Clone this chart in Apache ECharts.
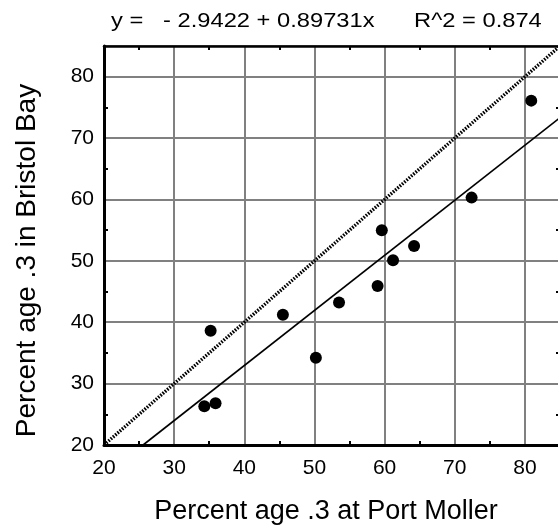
<!DOCTYPE html>
<html>
<head>
<meta charset="utf-8">
<script src="https://cdn.jsdelivr.net/npm/echarts@6/dist/echarts.min.js"></script>
<style>
html,body{margin:0;padding:0;background:#fff;}
#chart{width:558px;height:525px;}
</style>
</head>
<body>
<div id="chart"></div>
<script>
const portMoller = [34.3, 35.9, 35.2, 45.5, 50.2, 53.5, 59.0, 59.6, 61.2, 64.2, 72.4, 80.9];
const bristolBay = [26.3, 26.8, 38.6, 41.2, 34.2, 43.2, 45.9, 55.0, 50.1, 52.4, 60.3, 76.1];
const tickLabels = [20, 30, 40, 50, 60, 70, 80];
const minorTicks = [25, 35, 45, 55, 65, 75];
const axisRange = [20, 85];
const fitIntercept = -2.9422;
const fitSlope = 0.89731;
const rSquared = 0.874;
const xName = 'Percent age .3 at Port Moller';
const yName = 'Percent age .3 in Bristol Bay';

const points = portMoller.map((x, i) => [x, bristolBay[i]]);
const fitStartX = (axisRange[0] - fitIntercept) / fitSlope;
const fitLine = [[fitStartX, axisRange[0]], [axisRange[1], fitIntercept + fitSlope * axisRange[1]]];
const oneToOne = [[axisRange[0], axisRange[0]], [axisRange[1], axisRange[1]]];
const titleText = 'y =   - ' + Math.abs(fitIntercept) + ' + ' + fitSlope + 'x      R^2 = ' + rSquared;

const FONT = "'Liberation Sans', Arial, Helvetica, sans-serif";

function baseAxis(position) {
  return {
    type: 'value', position: position,
    min: axisRange[0], max: axisRange[1], interval: 10,
    axisLine: { show: false },
    axisTick: { show: false },
    axisLabel: { show: false },
    splitLine: { show: false }
  };
}
function mainAxis(isX) {
  const a = baseAxis(isX ? 'bottom' : 'left');
  a.name = isX ? xName : yName;
  a.nameLocation = 'middle';
  a.nameGap = isX ? 53 : 63;
  a.nameRotate = isX ? 0 : 90;
  a.nameTextStyle = {
    fontFamily: FONT, fontSize: isX ? 27 : 28, color: '#000',
    padding: isX ? [0, 12, 0, 0] : [0, 30, 0, 0]
  };
  a.axisLine = { show: true, onZero: false, lineStyle: { color: '#000', width: 3 } };
  a.axisLabel = { show: true, customValues: tickLabels, margin: isX ? 13 : 10, fontFamily: FONT, fontSize: 21, color: '#000' };
  a.splitLine = { show: true, lineStyle: { color: '#808080', width: 2 } };
  return a;
}
function tickAxis(position, withLine) {
  const a = baseAxis(position);
  if (withLine) a.axisLine = { show: true, onZero: false, lineStyle: { color: '#000', width: 2.5 } };
  a.axisTick = { show: true, inside: true, length: 4, customValues: minorTicks, lineStyle: { color: '#000', width: 2 } };
  return a;
}

const chart = echarts.init(document.getElementById('chart'), null, { renderer: 'canvas' });
chart.setOption({
  animation: false,
  backgroundColor: '#fff',
  graphic: [{
    type: 'text', left: 111, top: 11, scaleX: 1.185, silent: true,
    style: { text: titleText, font: '20px ' + FONT, fill: '#000' }
  }],
  grid: { left: 104, top: 46, width: 456, height: 399, containLabel: false, outerBoundsMode: 'none' },
  xAxis: [mainAxis(true), tickAxis('top', true), tickAxis('bottom', false)],
  yAxis: [mainAxis(false), tickAxis('right', true), tickAxis('left', false)],
  series: [
    {
      type: 'line', data: oneToOne, symbol: 'none', silent: true,
      lineStyle: { color: '#000', width: 3.4, type: [1.6, 1.4] }, z: 3
    },
    {
      type: 'line', data: fitLine, symbol: 'none', silent: true,
      lineStyle: { color: '#000', width: 1.6 }, z: 3
    },
    {
      type: 'scatter', data: points, symbol: 'circle', symbolSize: 12,
      itemStyle: { color: '#000', opacity: 1 }, z: 4
    }
  ]
});
</script>
</body>
</html>
